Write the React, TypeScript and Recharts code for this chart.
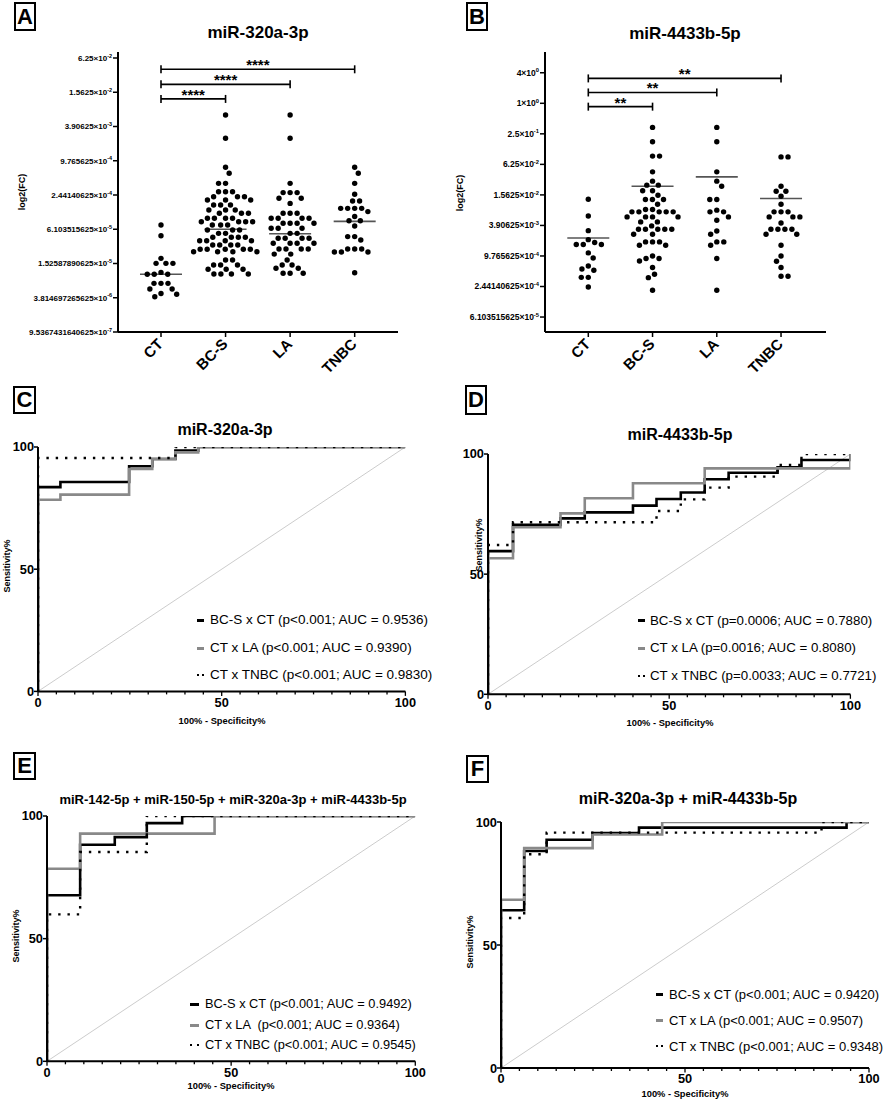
import React from 'react';
import { ScatterChart, Scatter, XAxis, YAxis, ReferenceLine, LineChart, Line } from 'recharts';

const FONT = '"Liberation Sans", Arial, Helvetica, sans-serif';

// ---------- categories ----------
const groupNames = ['CT', 'BC-S', 'LA', 'TNBC'];

// ---------- Panel A: miR-320a-3p (log2 of fold change; axis labelled as 2^value) ----------
const a320CT = [-13.75, -14.38, -15.7, -15.99, -15.99, -15.99, -16.52, -16.63, -16.63, -16.63, -17.16, -17.16, -17.16, -17.49, -17.49, -17.75, -17.8, -17.94];
const a320BCS = [
  -7.33, -8.69, -10.38, -10.73, -11.32, -11.32, -11.81, -11.81, -11.81, -12.1, -12.1, -12.1,
  -12.29, -12.29, -12.29, -12.58, -12.58, -12.58, -12.88, -12.88, -12.88, -13.07, -13.07, -13.07,
  -13.36, -13.36, -13.36, -13.36, -13.56, -13.56, -13.56, -13.56, -13.75, -13.75, -13.75,
  -14.04, -14.04, -14.04, -14.24, -14.24, -14.47, -14.47, -14.47, -14.47, -14.67, -14.67, -14.67, -14.67,
  -14.92, -14.92, -14.92, -14.92, -15.17, -15.17, -15.17, -15.17, -15.17, -15.31, -15.31, -15.31, -15.31,
  -15.8, -15.8, -16.09, -16.09, -16.09, -16.34, -16.34, -16.34, -16.61, -16.61, -16.61, -16.61,
];
const a320LA = [
  -7.33, -8.69, -11.32, -11.86, -11.86, -11.86, -12.19, -12.19, -12.49, -13.07, -13.07, -13.07,
  -13.36, -13.36, -13.36, -13.36, -13.65, -13.65, -13.65, -13.65, -13.94, -13.94, -13.94, -14.24, -14.24,
  -14.53, -14.53, -14.53, -14.53, -14.82, -14.82, -14.82, -14.82, -15.15, -15.15, -15.15, -15.15,
  -15.45, -15.45, -15.8, -16.09, -16.09, -16.28, -16.28, -16.57, -16.57, -16.57,
];
const a320TNBC = [
  -10.38, -10.73, -11.32, -11.96, -12.35, -12.35, -12.78, -12.78, -12.78, -12.78, -12.97, -13.26,
  -13.5, -13.5, -13.81, -14.43, -14.43, -14.63, -15.15, -15.15, -15.15, -15.33, -15.33, -15.33, -16.54,
];
const a320Medians = [-16.63, -14.0, -14.26, -13.54];
const a320Ticks = [-4, -6, -8, -10, -12, -14, -16, -18, -20];
const a320Sig = ['****', '****', '****'];

// ---------- Panel B: miR-4433b-5p ----------
const b4433CT = [-6.28, -7.38, -8.34, -8.93, -9.12, -9.25, -9.25, -9.25, -9.8, -10.13, -10.66, -10.85, -10.94, -11.4, -11.4, -12.03];
const b4433BCS = [
  -1.58, -2.52, -3.46, -3.46, -4.49, -5.1, -5.36, -5.36, -5.73, -5.73, -6.02, -6.3, -6.3, -6.3, -6.61,
  -6.96, -6.96, -7.11, -7.11, -7.11, -7.11, -7.11, -7.44, -7.44, -7.44, -7.44, -7.77, -7.77, -8.03,
  -8.25, -8.25, -8.25, -8.25, -8.25, -8.58, -8.58, -9.08, -9.08, -9.08, -9.3, -9.3, -10.0, -10.17, -10.17,
  -10.33, -10.76, -11.2, -11.42, -12.25,
];
const b4433LA = [-1.58, -2.52, -4.49, -5.1, -5.43, -6.3, -6.3, -7.0, -7.11, -7.11, -7.44, -7.66, -8.36, -8.58, -9.08, -9.08, -9.3, -10.17, -12.25];
const b4433TNBC = [
  -3.51, -3.51, -5.43, -5.76, -5.76, -6.09, -6.61, -7.11, -7.11, -7.11, -7.44, -7.44, -7.44, -7.84,
  -8.25, -8.25, -8.25, -8.25, -8.58, -8.58, -9.3, -10.0, -10.35, -10.76, -11.33, -11.33,
];
const b4433Medians = [-8.82, -5.43, -4.82, -6.24];
const b4433Ticks = [2, 0, -2, -4, -6, -8, -10, -12, -14];
const b4433Sig = ['**', '**', '**'];

// ---------- ROC curves: x = 100% - Specificity%, y = Sensitivity% ----------
const rocXTicks = [0, 5, 10, 15, 20, 25, 30, 35, 40, 45, 50, 55, 60, 65, 70, 75, 80, 85, 90, 95, 100];
const rocYTicks = [0, 50, 100];
const diagX = [0, 100];
const diagY = [0, 100];

// C: miR-320a-3p
const cBcsX = [0, 0, 6.1, 24.8, 31.1, 37.4, 43.6, 100];
const cBcsY = [0, 83.6, 85.7, 92.1, 95.1, 98.5, 100, 100];
const cLaX = [0, 0, 6.1, 24.8, 31.1, 37.4, 43.6, 100];
const cLaY = [0, 78.4, 80.5, 91.0, 95.1, 97.8, 100, 100];
const cTnX = [0, 0, 37.4, 100];
const cTnY = [0, 95.5, 100, 100];
const cLegend = ['BC-S x CT (p<0.001; AUC = 0.9536)', 'CT x LA (p<0.001; AUC = 0.9390)', 'CT x TNBC (p<0.001; AUC = 0.9830)'];

// D: miR-4433b-5p
const dBcsX = [0, 0, 6.9, 20.0, 26.7, 40.0, 46.5, 53.2, 59.8, 66.4, 79.9, 86.5, 100];
const dBcsY = [0, 59.6, 70.5, 73.2, 75.7, 78.5, 81.3, 84.0, 89.5, 92.2, 94.5, 97.5, 100];
const dLaX = [0, 0, 6.9, 20.0, 26.7, 40.0, 59.8, 100];
const dLaY = [0, 56.6, 69.5, 75.3, 81.6, 87.8, 94.0, 100];
const dTnX = [0, 0, 6.9, 46.5, 53.2, 59.8, 66.4, 79.9, 86.5, 100];
const dTnY = [0, 62.1, 71.6, 76.3, 81.1, 86.0, 90.6, 95.4, 100, 100];
const dLegend = ['BC-S x CT (p=0.0006; AUC = 0.7880)', 'CT x LA (p=0.0016; AUC = 0.8080)', 'CT x TNBC (p=0.0033; AUC = 0.7721)'];

// E: four-miRNA panel
const eBcsX = [0, 0, 9.0, 18.4, 27.1, 36.7, 100];
const eBcsY = [0, 67.7, 88.3, 91.4, 97.1, 100, 100];
const eLaX = [0, 0, 9.0, 45.5, 100];
const eLaY = [0, 78.5, 92.8, 100, 100];
const eTnX = [0, 0, 9.0, 27.1, 100];
const eTnY = [0, 59.9, 85.3, 100, 100];
const eLegend = ['BC-S x CT (p<0.001; AUC = 0.9492)', 'CT x LA  (p<0.001; AUC = 0.9364)', 'CT x TNBC (p<0.001; AUC = 0.9545)'];

// F: miR-320a-3p + miR-4433b-5p
const fBcsX = [0, 0, 6.3, 12.4, 24.9, 37.5, 93.9, 100];
const fBcsY = [0, 64.1, 88.2, 92.8, 95.5, 97.7, 100, 100];
const fLaX = [0, 0, 6.3, 24.9, 43.8, 100];
const fLaY = [0, 68.4, 89.4, 94.9, 100, 100];
const fTnX = [0, 0, 6.3, 12.4, 87.1, 100];
const fTnY = [0, 61.0, 86.9, 95.7, 100, 100];
const fLegend = ['BC-S x CT (p<0.001; AUC = 0.9420)', 'CT x LA (p<0.001; AUC = 0.9507)', 'CT x TNBC (p<0.001; AUC = 0.9348)'];

// ---------- helpers ----------
const toPts = (xs: number[], ys: number[]) => xs.map((x, i) => ({ x, y: ys[i] }));

// beeswarm layout: returns horizontal pixel offsets for each value
function beeswarm(vals: number[], pxY: number, minD: number): number[] {
  const order = vals.map((_, i) => i).sort((a, b) => vals[b] - vals[a]);
  const placed: { px: number; py: number }[] = [];
  const out = new Array(vals.length).fill(0);
  let flip = 1;
  for (const i of order) {
    const py = -vals[i] * pxY;
    const near = placed.filter((p) => Math.abs(p.py - py) < minD);
    const cands = [0];
    for (const p of near) {
      const w = Math.sqrt(minD * minD - (p.py - py) * (p.py - py));
      cands.push(p.px - w, p.px + w);
    }
    const ok = (x: number) => near.every((p) => (p.px - x) ** 2 + (p.py - py) ** 2 >= minD * minD - 1e-6);
    let best: number | null = null;
    for (const c of cands) {
      if (!ok(c)) continue;
      if (best === null) { best = c; continue; }
      const dc = Math.abs(c), db = Math.abs(best);
      if (dc < db - 1e-6 || (Math.abs(dc - db) < 1e-6 && Math.sign(c) === flip)) best = c;
    }
    if (best !== 0) flip = -flip;
    placed.push({ px: best as number, py });
    out[i] = best;
  }
  return out;
}

const ExpTick = (p: any) => {
  const { x, y, payload, fs } = p;
  const val = Math.pow(2, payload.value);
  const [m, e] = val.toExponential().split('e');
  const exp = String(parseInt(e, 10));
  return (
    <g>
      <line x1={x - 5} x2={x} y1={y} y2={y} stroke="#000" strokeWidth={1.5} />
      <text x={x - 6} y={y + 2.8} textAnchor="end" fontSize={fs} fontWeight="bold" fontFamily={FONT} fill="#000">
        {m}×10<tspan dy={-3.2} fontSize={fs * 0.68}>{exp}</tspan>
      </text>
    </g>
  );
};

const CatTick = (p: any) => {
  const { x, y, payload } = p;
  const name = groupNames[Math.round(payload.value) - 1];
  return (
    <g>
      <line x1={x} x2={x} y1={y} y2={y + 5} stroke="#000" strokeWidth={1.5} />
      <text x={x + 3} y={y + 13} transform={`rotate(-45, ${x + 3}, ${y + 13})`} textAnchor="end" fontSize={15} fontWeight="bold" fontFamily={FONT} fill="#000">
        {name}
      </text>
    </g>
  );
};

const RocXTick = (p: any) => {
  const { x, y, payload } = p;
  const v = payload.value;
  const major = v % 50 === 0;
  return (
    <g>
      <line x1={x} x2={x} y1={y} y2={y + (major ? 4.5 : 3)} stroke="#000" strokeWidth={1.3} />
      {major && (
        <text x={x} y={y + 15.3} textAnchor="middle" fontSize={12.8} fontWeight="bold" fontFamily={FONT} fill="#000">{v}</text>
      )}
    </g>
  );
};

const RocYTick = (p: any) => {
  const { x, y, payload } = p;
  return (
    <g>
      <line x1={x - 4} x2={x} y1={y} y2={y} stroke="#000" strokeWidth={1.5} />
      <text x={x - 4} y={y + 4.5} textAnchor="end" fontSize={12.8} fontWeight="bold" fontFamily={FONT} fill="#000">{payload.value}</text>
    </g>
  );
};

const Dot = (p: any) => <circle cx={p.cx} cy={p.cy} r={2.7} fill="#000" />;

type DotPanelProps = {
  left: number; width: number; plotLeft: number; plotRight: number;
  groups: number[][]; medians: number[]; yTicks: number[];
  yDomain: [number, number]; xDomain: [number, number];
  levels: number[]; sig: string[]; tickFs: number;
};

function DotPanel(props: DotPanelProps) {
  const { left, width, plotLeft, plotRight, groups, medians, yTicks, yDomain, xDomain, levels, sig, tickFs } = props;
  const height = 400, plotTop = 52, plotBottom = 332;
  const pxX = (plotRight - plotLeft) / (xDomain[1] - xDomain[0]);
  const pxY = (plotBottom - plotTop) / (yDomain[1] - yDomain[0]);
  const series = groups.map((vals, gi) => {
    const off = beeswarm(vals, pxY, 7.0);
    return vals.map((v, i) => ({ x: gi + 1 + off[i] / pxX, y: v }));
  });
  const medHalf = 21 / pxX;
  const tickHalf = 4 / pxY;
  return (
    <div style={{ position: 'absolute', left, top: 0 }}>
      <ScatterChart width={width} height={height} margin={{ top: plotTop, right: left + width - plotRight, left: 0, bottom: 0 }}>
        <XAxis type="number" dataKey="x" domain={xDomain} ticks={[1, 2, 3, 4]} interval={0} tickSize={0} tickMargin={0} tickLine={false}
          height={height - plotBottom} axisLine={{ stroke: '#000', strokeWidth: 2 }} tick={(p: any) => <CatTick {...p} />} allowDataOverflow />
        <YAxis type="number" dataKey="y" domain={yDomain} ticks={yTicks} interval={0} tickSize={0} tickMargin={0} tickLine={false}
          width={plotLeft - left} axisLine={{ stroke: '#000', strokeWidth: 2 }} tick={(p: any) => <ExpTick {...p} fs={tickFs} />} allowDataOverflow />
        {series.map((d, gi) => (
          <Scatter key={'s' + gi} data={d} isAnimationActive={false} shape={Dot} />
        ))}
        {medians.map((m, gi) => (
          <ReferenceLine key={'m' + gi} segment={[{ x: gi + 1 - medHalf, y: m }, { x: gi + 1 + medHalf, y: m }]} stroke="#555" strokeWidth={1.6} />
        ))}
        {levels.map((lv, k) => (
          <ReferenceLine key={'b' + k} segment={[{ x: 1, y: lv }, { x: k + 2, y: lv }]} stroke="#000" strokeWidth={1.6}
            label={{ value: sig[k], position: 'top', offset: -1, fill: '#000', fontSize: 15, fontWeight: 'bold', fontFamily: FONT }} />
        ))}
        {levels.map((lv, k) => (
          <ReferenceLine key={'l' + k} segment={[{ x: 1, y: lv - tickHalf }, { x: 1, y: lv + tickHalf }]} stroke="#000" strokeWidth={1.6} />
        ))}
        {levels.map((lv, k) => (
          <ReferenceLine key={'r' + k} segment={[{ x: k + 2, y: lv - tickHalf }, { x: k + 2, y: lv + tickHalf }]} stroke="#000" strokeWidth={1.6} />
        ))}
      </ScatterChart>
    </div>
  );
}

type RocProps = {
  x0: number; y0: number; x1: number; y1: number;
  bcs: { x: number; y: number }[]; la: { x: number; y: number }[]; tn: { x: number; y: number }[];
};

function RocChart({ x0, y0, x1, y1, bcs, la, tn }: RocProps) {
  const padL = 40, padT = 8, padR = 24, padB = 30;
  const diag = toPts(diagX, diagY);
  return (
    <div style={{ position: 'absolute', left: x0 - padL, top: y0 - padT }}>
      <LineChart width={x1 - x0 + padL + padR} height={y1 - y0 + padT + padB} margin={{ top: padT, right: padR, left: 0, bottom: 0 }}>
        <XAxis type="number" dataKey="x" domain={[0, 100]} ticks={rocXTicks} interval={0} tickSize={0} tickMargin={0} tickLine={false}
          height={padB} axisLine={{ stroke: '#000', strokeWidth: 2 }} tick={(p: any) => <RocXTick {...p} />} allowDataOverflow />
        <YAxis type="number" dataKey="y" domain={[0, 100]} ticks={rocYTicks} interval={0} tickSize={0} tickMargin={0} tickLine={false}
          width={padL} axisLine={{ stroke: '#000', strokeWidth: 2 }} tick={(p: any) => <RocYTick {...p} />} allowDataOverflow />
        <Line data={diag} dataKey="y" type="linear" stroke="#cccccc" strokeWidth={1} dot={false} activeDot={false} isAnimationActive={false} />
        <Line data={bcs} dataKey="y" type="stepAfter" stroke="#000" strokeWidth={2.6} dot={false} activeDot={false} isAnimationActive={false} />
        <Line data={la} dataKey="y" type="stepAfter" stroke="#898989" strokeWidth={2.6} dot={false} activeDot={false} isAnimationActive={false} />
        <Line data={tn} dataKey="y" type="stepAfter" stroke="#000" strokeWidth={2.4} strokeDasharray="2.4 6.9" dot={false} activeDot={false} isAnimationActive={false} />
      </LineChart>
    </div>
  );
}

const abs = (l: number, t: number): React.CSSProperties => ({ position: 'absolute', left: l, top: t });

function CenterText({ x, y, text, fs, bold = true, rotate = false }: { x: number; y: number; text: string; fs: number; bold?: boolean; rotate?: boolean }) {
  return (
    <div style={{ ...abs(x, y), transform: `translate(-50%, -50%)${rotate ? ' rotate(-90deg)' : ''}`, whiteSpace: 'pre', fontSize: fs, fontWeight: bold ? 'bold' : 'normal', lineHeight: 1 }}>
      {text}
    </div>
  );
}

function PanelLetter({ x, y, w, h, letter }: { x: number; y: number; w: number; h: number; letter: string }) {
  return (
    <div style={{ ...abs(x, y), width: w, height: h, boxSizing: 'border-box', border: '2.5px solid #000', display: 'flex', alignItems: 'center', justifyContent: 'center', fontSize: 22, fontWeight: 'bold', lineHeight: 1 }}>
      {letter}
    </div>
  );
}

function RocLegend({ iconX, iconW, textX, rows, fs, labels }: { iconX: number; iconW: number; textX: number; rows: number[]; fs: number; labels: string[] }) {
  return (
    <>
      {labels.map((lab, i) => (
        <React.Fragment key={i}>
          {i < 2 ? (
            <div style={{ ...abs(iconX, rows[i] - 1.5), width: iconW, height: 3, background: i === 0 ? '#000' : '#898989' }} />
          ) : (
            <>
              <div style={{ ...abs(iconX, rows[i] - 1), width: 2.2, height: 2.2, background: '#000' }} />
              <div style={{ ...abs(iconX + iconW - 2, rows[i] - 1), width: 2.2, height: 2.2, background: '#000' }} />
            </>
          )}
          <div style={{ ...abs(textX, rows[i]), transform: 'translateY(-50%)', whiteSpace: 'pre', fontSize: fs, lineHeight: 1 }}>{lab}</div>
        </React.Fragment>
      ))}
    </>
  );
}

export default function App() {
  return (
    <div style={{ position: 'absolute', left: 0, top: 0, width: 892, height: 1100, background: '#fff', fontFamily: FONT, color: '#000', overflow: 'hidden' }}>
      {/* Panel A */}
      <PanelLetter x={14} y={2} w={22} h={29} letter="A" />
      <CenterText x={258} y={32} text="miR-320a-3p" fs={17} />
      <CenterText x={22} y={192} text="log2(FC)" fs={9} rotate />
      <DotPanel left={0} width={445} plotLeft={118} plotRight={398}
        groups={[a320CT, a320BCS, a320LA, a320TNBC]} medians={a320Medians} yTicks={a320Ticks}
        yDomain={[-20, -3.65]} xDomain={[0.334, 4.671]} levels={[-6.39, -5.54, -4.66]} sig={a320Sig} tickFs={8} />

      {/* Panel B */}
      <PanelLetter x={466} y={2} w={22} h={29} letter="B" />
      <CenterText x={685} y={33} text="miR-4433b-5p" fs={17} />
      <CenterText x={460} y={193} text="log2(FC)" fs={9} rotate />
      <DotPanel left={445} width={447} plotLeft={545} plotRight={826}
        groups={[b4433CT, b4433BCS, b4433LA, b4433TNBC]} medians={b4433Medians} yTicks={b4433Ticks}
        yDomain={[-14.98, 3.36]} xDomain={[0.326, 4.70]} levels={[-0.22, 0.71, 1.63]} sig={b4433Sig} tickFs={8.5} />

      {/* Panel C */}
      <PanelLetter x={13} y={386} w={23} h={28} letter="C" />
      <CenterText x={225} y={430} text="miR-320a-3p" fs={16} />
      <CenterText x={7} y={566} text="Sensitivity%" fs={9} rotate />
      <CenterText x={222} y={722} text="100% - Specificity%" fs={9.3} />
      <RocChart x0={38.3} y0={447.3} x1={405.7} y1={691.7} bcs={toPts(cBcsX, cBcsY)} la={toPts(cLaX, cLaY)} tn={toPts(cTnX, cTnY)} />
      <RocLegend iconX={197} iconW={7} textX={210} rows={[620, 648, 675]} fs={13.5} labels={cLegend} />

      {/* Panel D */}
      <PanelLetter x={465} y={385} w={22} h={30} letter="D" />
      <CenterText x={680} y={435} text="miR-4433b-5p" fs={16} />
      <CenterText x={478.5} y={545} text="Sensitivity%" fs={9} rotate />
      <CenterText x={670} y={724} text="100% - Specificity%" fs={9.3} />
      <RocChart x0={488.3} y0={454} x1={850.7} y1={694.3} bcs={toPts(dBcsX, dBcsY)} la={toPts(dLaX, dLaY)} tn={toPts(dTnX, dTnY)} />
      <RocLegend iconX={638} iconW={7} textX={650} rows={[620.7, 648.3, 676]} fs={13.3} labels={dLegend} />

      {/* Panel E */}
      <PanelLetter x={13} y={752} w={23} h={28} letter="E" />
      <CenterText x={233} y={799} text="miR-142-5p + miR-150-5p + miR-320a-3p + miR-4433b-5p" fs={13} />
      <CenterText x={15.5} y={936} text="Sensitivity%" fs={9} rotate />
      <CenterText x={231} y={1087} text="100% - Specificity%" fs={9.3} />
      <RocChart x0={46.7} y0={815.7} x1={415} y1={1061} bcs={toPts(eBcsX, eBcsY)} la={toPts(eLaX, eLaY)} tn={toPts(eTnX, eTnY)} />
      <RocLegend iconX={190} iconW={9} textX={205} rows={[1004, 1025, 1045]} fs={12.8} labels={eLegend} />

      {/* Panel F */}
      <PanelLetter x={466} y={755} w={23} h={28} letter="F" />
      <CenterText x={688} y={799} text="miR-320a-3p + miR-4433b-5p" fs={16} />
      <CenterText x={469.5} y={942} text="Sensitivity%" fs={9} rotate />
      <CenterText x={685} y={1095} text="100% - Specificity%" fs={9.3} />
      <RocChart x0={501} y0={821.7} x1={869} y1={1067.7} bcs={toPts(fBcsX, fBcsY)} la={toPts(fLaX, fLaY)} tn={toPts(fTnX, fTnY)} />
      <RocLegend iconX={656} iconW={7} textX={669} rows={[994, 1020, 1046]} fs={13} labels={fLegend} />
    </div>
  );
}
